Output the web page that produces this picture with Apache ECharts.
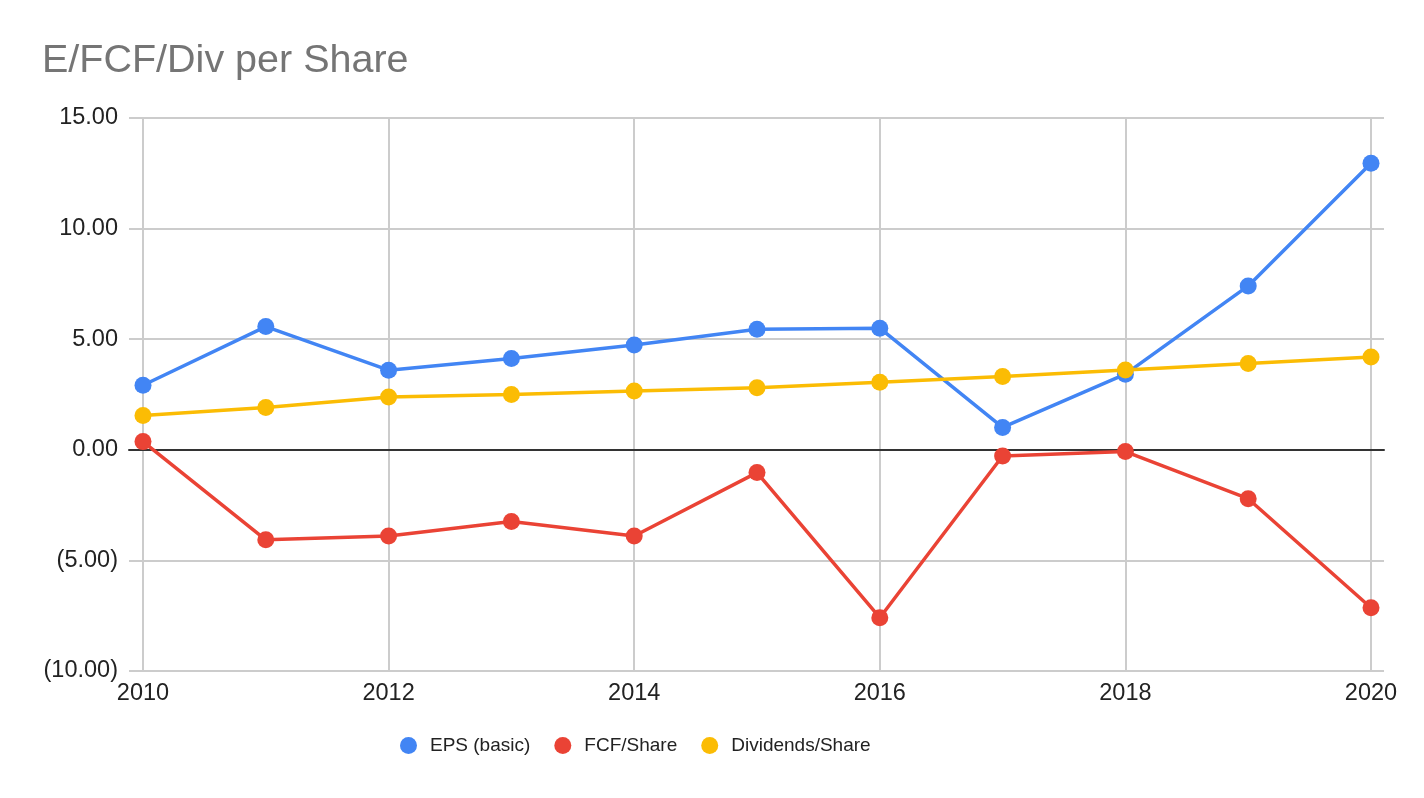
<!DOCTYPE html>
<html>
<head>
<meta charset="utf-8">
<title>E/FCF/Div per Share</title>
<script src="https://cdn.jsdelivr.net/npm/echarts@6/dist/echarts.min.js"></script>
<style>
  html, body { margin: 0; padding: 0; background: #fff; }
  #chart { width: 1424px; height: 798px; }
</style>
</head>
<body>
<div id="chart"></div>
<script>
// data
const years = [2010, 2011, 2012, 2013, 2014, 2015, 2016, 2017, 2018, 2019, 2020];
const epsBasic = [2.92, 5.57, 3.60, 4.13, 4.74, 5.45, 5.50, 1.01, 3.42, 7.41, 12.95];
const fcfShare = [0.37, -4.07, -3.90, -3.24, -3.90, -1.03, -7.59, -0.28, -0.08, -2.21, -7.14];
const divShare = [1.55, 1.91, 2.39, 2.50, 2.66, 2.81, 3.05, 3.31, 3.61, 3.90, 4.20];
const seriesNames = ['EPS (basic)', 'FCF/Share', 'Dividends/Share'];
const colors = ['#4285F4', '#EA4335', '#FBBC04'];

const font = '"Liberation Sans", Arial, sans-serif';

function pairs(values) {
  return years.map(function (y, i) { return [y, values[i]]; });
}

function fmtMoney(v) {
  return v < 0 ? '(' + Math.abs(v).toFixed(2) + ')' : v.toFixed(2);
}

const chart = echarts.init(document.getElementById('chart'));

function lineSeries(name, values, color) {
  return {
    name: name,
    type: 'line',
    xAxisIndex: 1,
    yAxisIndex: 1,
    data: pairs(values),
    symbol: 'circle',
    symbolSize: 17,
    lineStyle: { width: 3.5, color: color },
    itemStyle: { color: color },
    animation: false
  };
}

const option = {
  backgroundColor: '#fff',
  textStyle: { fontFamily: font },
  title: {
    text: 'E/FCF/Div per Share',
    left: 37,
    top: 36,
    textStyle: { fontSize: 39.5, fontWeight: 'normal', color: '#757575', fontFamily: font }
  },
  legend: {
    left: 395,
    top: 731,
    icon: 'circle',
    itemWidth: 17,
    itemHeight: 17,
    itemGap: 24,
    textStyle: { fontSize: 19, color: '#222', fontFamily: font, padding: [0, 0, 0, 8] },
    data: seriesNames
  },
  grid: [
    // wide grid: horizontal lines, y labels, zero line
    { left: 129, right: 40, top: 118, bottom: 127 },
    // data grid
    { left: 143, right: 53, top: 118, bottom: 127 }
  ],
  xAxis: [
    {
      gridIndex: 0,
      type: 'value',
      min: 0,
      max: 1,
      axisLine: { show: true, onZero: true, lineStyle: { color: '#333', width: 2 } },
      axisTick: { show: false },
      axisLabel: { show: false },
      splitLine: { show: false }
    },
    {
      gridIndex: 1,
      type: 'value',
      min: 2010,
      max: 2020,
      interval: 2,
      axisLine: { show: false },
      axisTick: { show: false },
      axisLabel: {
        fontSize: 23.5, color: '#222', margin: 11, fontFamily: font,
        formatter: function (v) { return String(v); }
      },
      splitLine: { show: true, lineStyle: { color: '#cccccc', width: 2 } }
    }
  ],
  yAxis: [
    {
      gridIndex: 0,
      type: 'value',
      min: -10,
      max: 15,
      interval: 5,
      axisLine: { show: false },
      axisTick: { show: false },
      axisLabel: { fontSize: 23.5, color: '#222', margin: 11, fontFamily: font, formatter: fmtMoney },
      splitLine: { show: true, lineStyle: { color: '#cccccc', width: 2 } }
    },
    {
      gridIndex: 1,
      type: 'value',
      min: -10,
      max: 15,
      interval: 5,
      show: false,
      splitLine: { show: false }
    }
  ],
  series: [
    lineSeries(seriesNames[0], epsBasic, colors[0]),
    lineSeries(seriesNames[1], fcfShare, colors[1]),
    lineSeries(seriesNames[2], divShare, colors[2])
  ]
};

chart.setOption(option);
</script>
</body>
</html>
